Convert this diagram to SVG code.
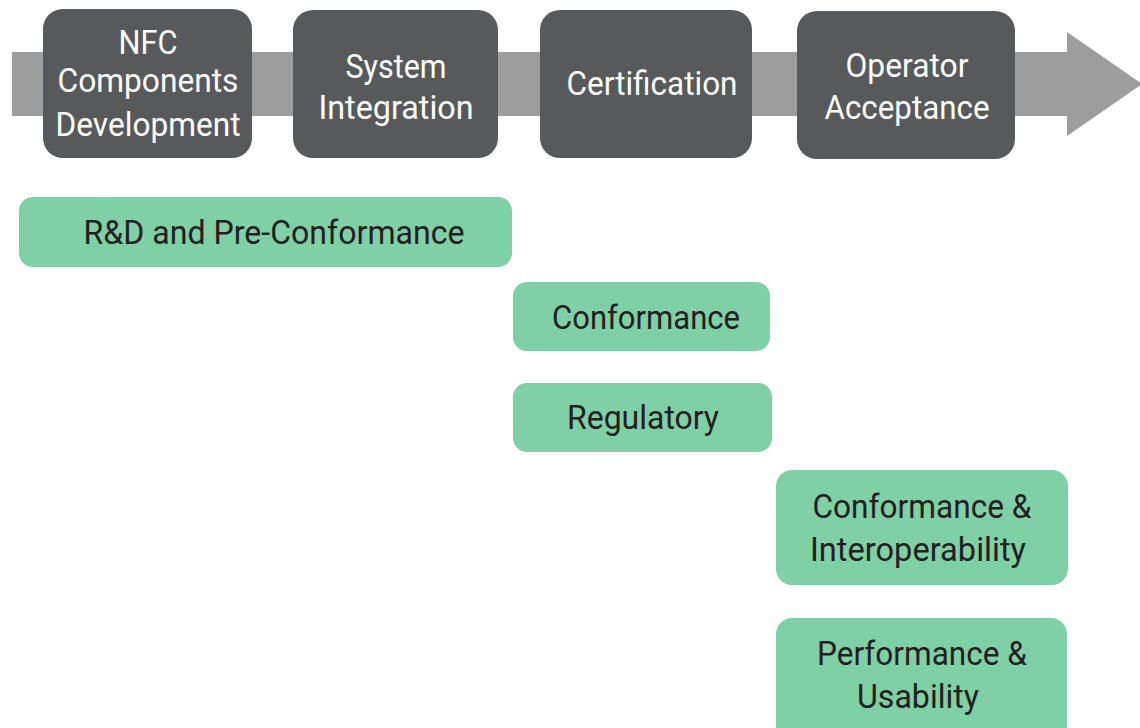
<svg xmlns="http://www.w3.org/2000/svg" width="1140" height="728" viewBox="0 0 1140 728">
<style>
.stage{fill:#58595b}
.test{fill:#7fcfa7}
.lw{font-family:Roboto,"Liberation Sans",sans-serif;font-size:33px;fill:#ffffff;text-anchor:middle}
.lb{font-family:Roboto,"Liberation Sans",sans-serif;font-size:33px;fill:#231f20;text-anchor:middle}
</style>
<rect width="1140" height="728" fill="#ffffff"/>
<g id="connectors">
<polygon points="12,52 1067,52 1067,32 1142,84 1067,136 1067,116 12,116" fill="#9d9d9d"/>
</g>
<g id="node-nfc">
<rect class="stage" x="43" y="9" width="209" height="149" rx="20"/>
<text class="lw" x="148" y="54" textLength="59" lengthAdjust="spacingAndGlyphs">NFC</text>
<text class="lw" x="148" y="92" textLength="181" lengthAdjust="spacingAndGlyphs">Components</text>
<text class="lw" x="148" y="136" textLength="185" lengthAdjust="spacingAndGlyphs">Development</text>
</g>
<g id="node-sysint">
<rect class="stage" x="293" y="10" width="205" height="148" rx="20"/>
<text class="lw" x="396" y="78" textLength="101" lengthAdjust="spacingAndGlyphs">System</text>
<text class="lw" x="396" y="119" textLength="155" lengthAdjust="spacingAndGlyphs">Integration</text>
</g>
<g id="node-cert">
<rect class="stage" x="540" y="10" width="212" height="148" rx="20"/>
<text class="lw" x="652" y="95" textLength="171" lengthAdjust="spacingAndGlyphs">Certification</text>
</g>
<g id="node-operator">
<rect class="stage" x="797" y="11" width="218" height="148" rx="20"/>
<text class="lw" x="907" y="77" textLength="123" lengthAdjust="spacingAndGlyphs">Operator</text>
<text class="lw" x="907" y="119" textLength="165" lengthAdjust="spacingAndGlyphs">Acceptance</text>
</g>
<g id="node-rd">
<rect class="test" x="19" y="197" width="493" height="70" rx="14"/>
<text class="lb" x="274" y="244" textLength="381" lengthAdjust="spacingAndGlyphs">R&amp;D and Pre-Conformance</text>
</g>
<g id="node-conformance">
<rect class="test" x="513" y="282" width="257" height="69" rx="14"/>
<text class="lb" x="646" y="329" textLength="188" lengthAdjust="spacingAndGlyphs">Conformance</text>
</g>
<g id="node-regulatory">
<rect class="test" x="513" y="383" width="259" height="69" rx="14"/>
<text class="lb" x="643" y="429" textLength="152" lengthAdjust="spacingAndGlyphs">Regulatory</text>
</g>
<g id="node-interop">
<rect class="test" x="776" y="470" width="292" height="115" rx="16"/>
<text class="lb" x="922" y="518" textLength="219" lengthAdjust="spacingAndGlyphs">Conformance &amp;</text>
<text class="lb" x="918" y="561" textLength="216" lengthAdjust="spacingAndGlyphs">Interoperability</text>
</g>
<g id="node-perf">
<rect class="test" x="776" y="618" width="291" height="126" rx="16"/>
<text class="lb" x="922" y="665" textLength="210" lengthAdjust="spacingAndGlyphs">Performance &amp;</text>
<text class="lb" x="918" y="708" textLength="122" lengthAdjust="spacingAndGlyphs">Usability</text>
</g>
</svg>
